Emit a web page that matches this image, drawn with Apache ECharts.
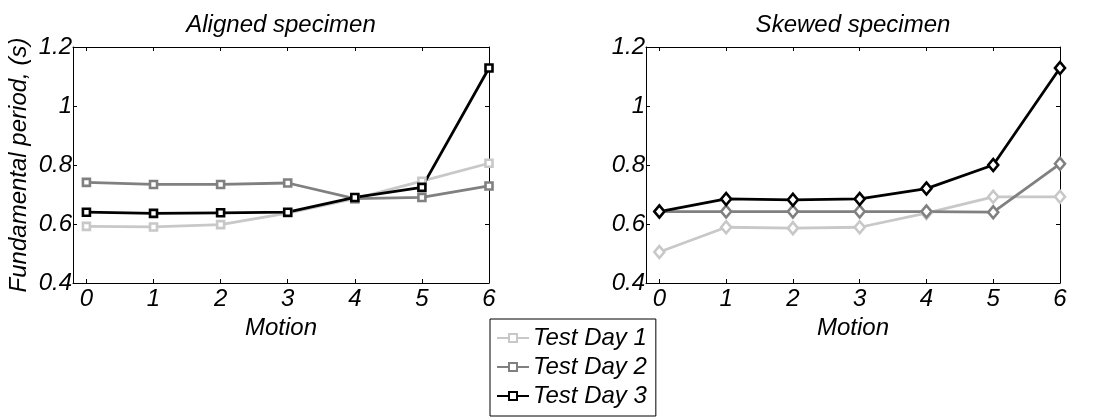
<!DOCTYPE html>
<html>
<head>
<meta charset="utf-8">
<script src="https://cdn.jsdelivr.net/npm/echarts@6/dist/echarts.min.js"></script>
<style>
  html, body { margin: 0; padding: 0; background: #fff; }
  #chart { width: 1099px; height: 417px; }
</style>
</head>
<body>
<div id="chart"></div>
<script>
// motion number on x, fundamental period (s) on y
const motions = [0, 1, 2, 3, 4, 5, 6]
const yTicks = [0.4, 0.6, 0.8, 1, 1.2]
const dayNames = ['Test Day 1', 'Test Day 2', 'Test Day 3']

const alignedDay1 = [0.592, 0.590, 0.598, 0.637, 0.686, 0.745, 0.806]
const alignedDay2 = [0.741, 0.734, 0.734, 0.739, 0.686, 0.690, 0.729]
const alignedDay3 = [0.640, 0.636, 0.638, 0.640, 0.690, 0.724, 1.129]

const skewedDay1 = [0.505, 0.589, 0.586, 0.589, 0.637, 0.692, 0.692]
const skewedDay2 = [0.642, 0.642, 0.642, 0.642, 0.642, 0.640, 0.804]
const skewedDay3 = [0.642, 0.685, 0.682, 0.685, 0.720, 0.800, 1.129]

const colors = ['#c8c8c8', '#808080', '#000000']
const font = { fontFamily: 'Liberation Sans, Arial, sans-serif', fontStyle: 'italic', fontSize: 24, color: '#000' }

function pairs (vals) {
  return motions.map((m, i) => [m, vals[i]])
}

function xAxis (gridIndex, pos, title, name) {
  const bottom = pos === 'bottom'
  return {
    type: 'value', gridIndex: gridIndex, position: pos,
    min: -0.2, max: 6,
    name: bottom ? name : title,
    nameLocation: 'middle',
    nameGap: bottom ? 27 : 10,
    nameTextStyle: font,
    axisLine: { show: true, onZero: false, lineStyle: { color: '#000', width: 1 } },
    axisTick: { show: true, inside: true, length: 4, customValues: motions, lineStyle: { color: '#000' } },
    axisLabel: { show: bottom, customValues: motions, margin: 4, ...font },
    splitLine: { show: false }
  }
}

function yAxis (gridIndex, pos, name) {
  const left = pos === 'left'
  return {
    type: 'value', gridIndex: gridIndex, position: pos,
    min: yTicks[0], max: yTicks[yTicks.length - 1], interval: 0.2,
    name: left ? name : '',
    nameLocation: 'middle',
    nameGap: 42,
    nameTextStyle: font,
    axisLine: { show: true, onZero: false, lineStyle: { color: '#000', width: 1 } },
    axisTick: { show: true, inside: true, length: 4, lineStyle: { color: '#000' } },
    axisLabel: {
      show: left, margin: 1, ...font,
      formatter: v => String(Math.round(v * 10) / 10)
    },
    splitLine: { show: false }
  }
}

function line (name, vals, k, xi, yi, symbol, size) {
  return {
    name: name, type: 'line',
    xAxisIndex: xi, yAxisIndex: yi,
    data: pairs(vals),
    symbol: symbol, symbolSize: size,
    showAllSymbol: true,
    clip: false,
    lineStyle: { color: colors[k], width: 2.8 },
    itemStyle: { color: '#fff', borderColor: colors[k], borderWidth: 2.6 },
    emphasis: { disabled: true },
    animation: false
  }
}

const option = {
  backgroundColor: '#fff',
  animation: false,
  grid: [
    { left: 73, top: 47, width: 416, height: 236 },
    { left: 646, top: 47, width: 414, height: 236 }
  ],
  xAxis: [
    xAxis(0, 'bottom', '', 'Motion'),
    xAxis(0, 'top', 'Aligned specimen', ''),
    xAxis(1, 'bottom', '', 'Motion'),
    xAxis(1, 'top', 'Skewed specimen', '')
  ],
  yAxis: [
    yAxis(0, 'left', 'Fundamental period, (s)'),
    yAxis(0, 'right', ''),
    yAxis(1, 'left', ''),
    yAxis(1, 'right', '')
  ],
  legend: {
    data: dayNames,
    orient: 'vertical',
    left: 490, top: 319,
    padding: [7, 9, 8, 6],
    itemWidth: 32, itemHeight: 10,
    itemGap: 5,
    borderColor: '#000', borderWidth: 1,
    textStyle: { ...font, lineHeight: 24, padding: [0, 0, 0, -1] },
    selectedMode: false
  },
  series: [
    line(dayNames[0], alignedDay1, 0, 0, 0, 'rect', 7),
    line(dayNames[1], alignedDay2, 1, 0, 0, 'rect', 7),
    line(dayNames[2], alignedDay3, 2, 0, 0, 'rect', 7),
    line(dayNames[0], skewedDay1, 0, 2, 2, 'diamond', [10, 12]),
    line(dayNames[1], skewedDay2, 1, 2, 2, 'diamond', [10, 12]),
    line(dayNames[2], skewedDay3, 2, 2, 2, 'diamond', [10, 12])
  ]
}

const chart = echarts.init(document.getElementById('chart'))
chart.setOption(option)
window.addEventListener('resize', () => chart.resize())
</script>
</body>
</html>
